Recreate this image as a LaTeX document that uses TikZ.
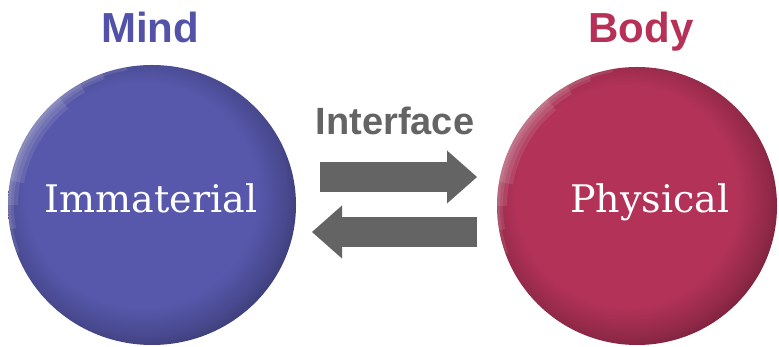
\documentclass[tikz,border=0pt]{standalone}
\usepackage{fontspec}
\setmainfont{DejaVu Serif}
\newfontfamily\headfont{Liberation Sans}
\usepackage{tikz}
\usetikzlibrary{shapes.geometric,arrows.meta,positioning,calc}
\usepackage{xcolor}

\definecolor{mindblue}{RGB}{87,88,172}
\definecolor{bodyred}{RGB}{178,50,88}
\definecolor{mindtext}{RGB}{82,82,168}
\definecolor{bodytext}{RGB}{182,48,88}
\definecolor{arrowgray}{RGB}{100,100,100}

\pgfdeclareradialshading{mindball}{\pgfpoint{-3bp}{3bp}}{color(0bp)=(mindblue); color(20bp)=(mindblue); color(25bp)=(mindblue!82!black); color(30bp)=(mindblue!55!black); color(50bp)=(mindblue!55!black)}
\pgfdeclareradialshading{bodyball}{\pgfpoint{-3bp}{3bp}}{color(0bp)=(bodyred); color(20bp)=(bodyred); color(25bp)=(bodyred!82!black); color(30bp)=(bodyred!55!black); color(50bp)=(bodyred!55!black)}

\begin{document}
\begin{tikzpicture}[x=1pt, y=1pt,
    ball/.style={ellipse, inner sep=0pt, shade},
    heading/.style={font=\headfont\bfseries\fontsize{42}{44}\selectfont, anchor=base},
    inside/.style={text=white, font=\fontsize{38}{40}\selectfont, anchor=base},
    blockarrow/.style={draw=arrowgray, fill=arrowgray, line width=30pt, -{Triangle[width=53pt, length=30pt, line width=0pt]}}]

    % Frame
    \useasboundingbox[fill=white] (0,0) rectangle (779,347);

    % Spheres
    \node[ball, shading=mindball, minimum width=288pt, minimum height=280pt] (mind) at (152,142) {};
    \node[ball, shading=bodyball, minimum width=280pt, minimum height=278pt] (body) at (637,141) {};

    % Soft highlights on the upper left rims
    \foreach \w/\a in {3/0, 6/10, 10/20, 14/30} {
        \draw[white, opacity=0.1, line width=\w pt] (mind.center) ++(100+\a:144pt-\w pt/2 and 140pt-\w pt/2)
            arc[start angle=100+\a, end angle=200-\a, x radius=144pt-\w pt/2, y radius=140pt-\w pt/2];
        \draw[white, opacity=0.1, line width=\w pt] (body.center) ++(100+\a:140pt-\w pt/2 and 139pt-\w pt/2)
            arc[start angle=100+\a, end angle=200-\a, x radius=140pt-\w pt/2, y radius=139pt-\w pt/2];
    }

    % Labels
    \node[heading, text=mindtext] (mindlbl) at (150,304) {Mind};
    \node[heading, text=bodytext] (bodylbl) at (641,304) {Body};
    \node[inside] (immat) at (151,134) {Immaterial};
    \node[inside] (phys) at (650,134) {Physical};

    % Interface
    \node[heading, text=arrowgray, font=\headfont\bfseries\fontsize{38}{40}\selectfont] (iface) at (395,212) {Interface};
    \coordinate (fwdstart) at (320,170);
    \coordinate (fwdend) at (477,170);
    \coordinate (backstart) at (477,115);
    \coordinate (backend) at (312,115);
    \draw[blockarrow] (fwdstart) -- (fwdend);
    \draw[blockarrow] (backstart) -- (backend);
\end{tikzpicture}
\end{document}
